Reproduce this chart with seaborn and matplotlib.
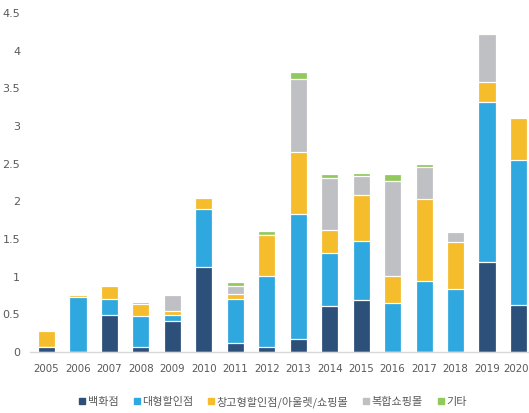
import numpy as np
import pandas as pd
import matplotlib
matplotlib.use("Agg")
import matplotlib.pyplot as plt
import matplotlib.transforms as mtransforms
from matplotlib.lines import Line2D
import seaborn as sns

years = [str(y) for y in range(2005, 2021)]
series_names = ["백화점", "대형할인점", "창고형할인점/아울렛/쇼핑몰", "복합쇼핑몰", "기타"]
dept_store = [0.06, 0.00, 0.49, 0.06, 0.41, 1.13, 0.12, 0.07, 0.17, 0.61, 0.69, 0.00, 0.00, 0.00, 1.20, 0.62]
hypermarket = [0.00, 0.73, 0.22, 0.42, 0.08, 0.77, 0.59, 0.94, 1.66, 0.71, 0.79, 0.655, 0.94, 0.83, 2.12, 1.93]
warehouse_outlet = [0.22, 0.03, 0.16, 0.16, 0.05, 0.14, 0.06, 0.54, 0.83, 0.30, 0.60, 0.35, 1.09, 0.63, 0.26, 0.56]
complex_mall = [0.00, 0.00, 0.00, 0.00, 0.22, 0.00, 0.11, 0.00, 0.97, 0.69, 0.25, 1.26, 0.43, 0.13, 0.64, 0.00]
others = [0.00, 0.00, 0.02, 0.02, 0.00, 0.00, 0.05, 0.05, 0.09, 0.05, 0.05, 0.10, 0.03, 0.00, 0.00, 0.00]
colors = ["#2C5079", "#2EA8DF", "#F5BC2B", "#BFC0C4", "#92C95C"]

df = pd.DataFrame({"year": years})
layers = [dept_store, hypermarket, warehouse_outlet, complex_mall, others]
cum = np.cumsum(np.array(layers), axis=0)
for name, row in zip(series_names, cum):
    df[name] = row

sns.set_style("white")
plt.rcParams["font.family"] = ["Liberation Sans Narrow", "DejaVu Sans"]

fig = plt.figure(figsize=(5.29, 4.13), dpi=100)
ax = fig.add_axes([0.0567, 0.1477, 0.9433, 0.8208])

# stacked bars: draw cumulative totals from the top layer down
for name, color in reversed(list(zip(series_names, colors))):
    sns.barplot(data=df, x="year", y=name, color=color, width=0.55,
                edgecolor="white", linewidth=0.9, saturation=1, ax=ax)

ax.set_xlim(-0.52, 15.33)
ax.set_ylim(0, 4.5)
yt = np.arange(0, 4.51, 0.5)
ax.set_yticks(yt)
ax.set_yticklabels([f"{v:g}" for v in yt])
ax.set_xlabel("")
ax.set_ylabel("")
ax.tick_params(axis="both", length=0, labelsize=8, colors="#595959")
ax.tick_params(axis="x", labelsize=7.4, pad=9)
ax.tick_params(axis="y", pad=7)
for s in ["left", "right", "top"]:
    ax.spines[s].set_visible(False)
ax.spines["bottom"].set_color("#D9D9D9")
ax.spines["bottom"].set_linewidth(1)

# keep the last year label inside the canvas
last = ax.get_xticklabels()[-1]
last.set_transform(last.get_transform() + mtransforms.ScaledTranslation(-3 / 100, 0, fig.dpi_scale_trans))

handles = [Line2D([], [], marker="s", linestyle="", markersize=4.5,
                  markerfacecolor=c, markeredgecolor=c) for c in colors]
fig.legend(handles, series_names, loc="center", bbox_to_anchor=(273 / 529, 1 - 402 / 413),
           ncol=5, frameon=False, handlelength=0.6, handletextpad=0.2, columnspacing=1.3,
           prop={"family": ["Noto Sans CJK KR", "DejaVu Sans"], "size": 8}, labelcolor="#595959")

fig.savefig("out.png", dpi=100)
